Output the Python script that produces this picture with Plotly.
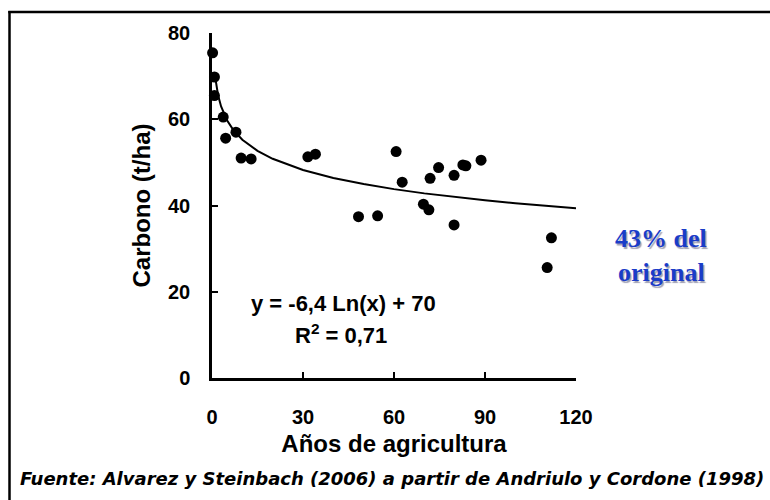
import math
import plotly.graph_objects as go

# ---- data ----
anos = [0.2, 0.8, 0.8, 3.7, 4.5, 7.9, 9.6, 12.9, 31.6, 34.1, 48.3, 54.6, 60.7, 62.7,
        69.7, 71.5, 71.9, 74.7, 79.8, 79.8, 82.7, 83.7, 88.7, 110.5, 111.9]
carbono = [75.4, 69.8, 65.5, 60.5, 55.6, 57.0, 51.0, 50.8, 51.3, 51.9, 37.4, 37.6, 52.5, 45.4,
           40.3, 39.0, 46.3, 48.8, 47.0, 35.5, 49.4, 49.2, 50.5, 25.6, 32.5]
x_ticks = [0, 30, 60, 90, 120]
y_ticks = [0, 20, 40, 60, 80]
# trend line y = a*Ln(x) + b (as printed on the chart)
coef_a = -6.4
coef_b = 70
trend_x = [1, 1.5, 2, 3, 4, 5, 7, 10, 15, 20, 30, 40, 50, 60, 70, 80, 90, 100, 110, 120]
trend_y = [coef_a * math.log(v) + coef_b for v in trend_x]

# ---- layout geometry (pixels) ----
W, H = 770, 500
L, R, T, B = 212, 194, 33, 122
PW, PH = W - L - R, H - T - B

def px(xp):
    return (xp - L) / PW

def py(yp):
    return (H - B - yp) / PH

fig = go.Figure()
fig.add_trace(go.Scatter(x=trend_x, y=trend_y, mode="lines",
                         line=dict(color="black", width=2), hoverinfo="skip",
                         showlegend=False))
fig.add_trace(go.Scatter(x=anos, y=carbono, mode="markers",
                         marker=dict(color="black", size=11), cliponaxis=False,
                         showlegend=False))

bold = dict(family="Liberation Sans, Arial, sans-serif", color="black", weight="bold")

fig.update_layout(
    width=W, height=H,
    margin=dict(l=L, r=R, t=T, b=B, pad=0),
    paper_bgcolor="white", plot_bgcolor="white",
    xaxis=dict(range=[0, 120], tickvals=x_ticks, ticktext=[str(v) for v in x_ticks],
               showgrid=False, zeroline=False, showline=True, linecolor="black", linewidth=2.5,
               ticks="inside", ticklen=6, tickwidth=2, tickcolor="black",
               tickfont=dict(size=20, **bold), ticklabelstandoff=19,
               title=dict(text="Años de agricultura", font=dict(size=24, **bold), standoff=9)),
    yaxis=dict(range=[0, 80], tickvals=y_ticks, ticktext=[str(v) for v in y_ticks],
               showgrid=False, zeroline=False, showline=True, linecolor="black", linewidth=2.5,
               ticks="inside", ticklen=6, tickwidth=2, tickcolor="black",
               tickfont=dict(size=20, **bold), ticklabelstandoff=15,
               title=dict(text="Carbono (t/ha)", font=dict(size=24, **bold), standoff=11)),
    font=dict(family="Liberation Sans, Arial, sans-serif"),
)

ann = []
ann.append(dict(x=px(343), y=py(303), xref="paper", yref="paper", showarrow=False,
                xanchor="center", yanchor="middle",
                text="y = -6,4 Ln(x) + 70", font=dict(size=22, **bold)))
ann.append(dict(x=px(341), y=py(334), xref="paper", yref="paper", showarrow=False,
                xanchor="center", yanchor="middle",
                text="R<sup>2</sup> = 0,71", font=dict(size=22, **bold)))
blue_font = dict(family="Liberation Serif, Times New Roman, serif", size=26, weight="bold",
                 color="#1a3cc8", shadow="1.5px 1.5px 1px #a0a0b4")
for txt, cy in [("43% del", 238), ("original", 272)]:
    ann.append(dict(x=px(661), y=py(cy), xref="paper", yref="paper", showarrow=False,
                    xanchor="center", yanchor="middle",
                    text=txt, font=blue_font))
ann.append(dict(x=px(18), y=py(478), xref="paper", yref="paper", showarrow=False,
                xanchor="left", yanchor="middle",
                text="Fuente: Alvarez y Steinbach (2006) a partir de Andriulo y Cordone (1998)",
                font=dict(family="DejaVu Sans, Verdana, sans-serif", size=18, color="black",
                          weight="bold", style="italic")))
fig.update_layout(annotations=ann)

fig.add_shape(type="line", xref="paper", yref="paper", x0=px(9.5), x1=px(9.5),
              y0=py(11), y1=py(505), line=dict(color="black", width=2.5))
fig.add_shape(type="line", xref="paper", yref="paper", x0=px(8.3), x1=px(775),
              y0=py(12), y1=py(12), line=dict(color="black", width=2.5))

fig.write_html("out.html")
